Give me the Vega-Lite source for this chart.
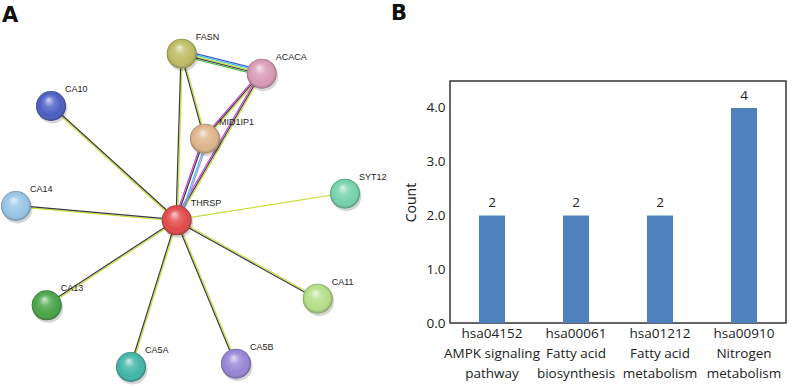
{
  "$schema": "https://vega.github.io/schema/vega-lite/v6.json",
  "padding": {"left": 0, "top": 2, "right": 0, "bottom": 0},
  "spacing": 0,
  "background": "white",
  "datasets": {
    "nodes": [
      {"name": "FASN", "nx": 181.7, "ny": 52.7},
      {"name": "ACACA", "nx": 261.7, "ny": 72.7},
      {"name": "CA10", "nx": 51, "ny": 105},
      {"name": "MID1IP1", "nx": 205, "ny": 137.7},
      {"name": "SYT12", "nx": 345, "ny": 192.7},
      {"name": "CA14", "nx": 16, "ny": 205},
      {"name": "THRSP", "nx": 176.7, "ny": 219.3},
      {"name": "CA13", "nx": 46.7, "ny": 304.3},
      {"name": "CA11", "nx": 317.7, "ny": 297.7},
      {"name": "CA5A", "nx": 131, "ny": 366},
      {"name": "CA5B", "nx": 236, "ny": 362.7}
    ],
    "edges": [
      {"source": "FASN", "target": "ACACA", "evidence": "cooccurrence"},
      {"source": "FASN", "target": "ACACA", "evidence": "database"},
      {"source": "FASN", "target": "ACACA", "evidence": "textmining"},
      {"source": "FASN", "target": "ACACA", "evidence": "coexpression"},
      {"source": "FASN", "target": "ACACA", "evidence": "neighborhood"},
      {"source": "FASN", "target": "THRSP", "evidence": "textmining"},
      {"source": "FASN", "target": "THRSP", "evidence": "coexpression"},
      {"source": "FASN", "target": "MID1IP1", "evidence": "textmining"},
      {"source": "FASN", "target": "MID1IP1", "evidence": "coexpression"},
      {"source": "ACACA", "target": "MID1IP1", "evidence": "textmining"},
      {"source": "ACACA", "target": "MID1IP1", "evidence": "coexpression"},
      {"source": "ACACA", "target": "MID1IP1", "evidence": "experiments"},
      {"source": "ACACA", "target": "THRSP", "evidence": "textmining"},
      {"source": "ACACA", "target": "THRSP", "evidence": "coexpression"},
      {"source": "ACACA", "target": "THRSP", "evidence": "experiments"},
      {"source": "MID1IP1", "target": "THRSP", "evidence": "homology"},
      {"source": "MID1IP1", "target": "THRSP", "evidence": "database"},
      {"source": "MID1IP1", "target": "THRSP", "evidence": "coexpression"},
      {"source": "MID1IP1", "target": "THRSP", "evidence": "experiments"},
      {"source": "THRSP", "target": "CA10", "evidence": "textmining"},
      {"source": "THRSP", "target": "CA10", "evidence": "coexpression"},
      {"source": "THRSP", "target": "CA14", "evidence": "textmining"},
      {"source": "THRSP", "target": "CA14", "evidence": "coexpression"},
      {"source": "THRSP", "target": "CA13", "evidence": "textmining"},
      {"source": "THRSP", "target": "CA13", "evidence": "coexpression"},
      {"source": "THRSP", "target": "CA5A", "evidence": "textmining"},
      {"source": "THRSP", "target": "CA5A", "evidence": "coexpression"},
      {"source": "THRSP", "target": "CA5B", "evidence": "textmining"},
      {"source": "THRSP", "target": "CA5B", "evidence": "coexpression"},
      {"source": "THRSP", "target": "CA11", "evidence": "textmining"},
      {"source": "THRSP", "target": "CA11", "evidence": "coexpression"},
      {"source": "THRSP", "target": "SYT12", "evidence": "textmining"}
    ],
    "pathways": [
      {"term": "hsa04152|AMPK signaling|pathway", "count": 2},
      {"term": "hsa00061|Fatty acid|biosynthesis", "count": 2},
      {"term": "hsa01212|Fatty acid|metabolism", "count": 2},
      {"term": "hsa00910|Nitrogen|metabolism", "count": 4}
    ]
  },
  "hconcat": [
    {
      "width": 390,
      "height": 305,
      "view": {"stroke": null},
      "title": {"text": "A", "anchor": "start", "frame": "group", "font": "DejaVu Sans", "fontSize": 21, "fontWeight": "bold", "color": "#111111", "offset": 7, "dx": 2},
      "layer": [
        {
          "data": {"name": "edges"},
          "transform": [
            {"lookup": "source", "from": {"data": {"name": "nodes"}, "key": "name", "fields": ["nx", "ny"]}, "as": ["sx", "sy"]},
            {"lookup": "target", "from": {"data": {"name": "nodes"}, "key": "name", "fields": ["nx", "ny"]}, "as": ["tx", "ty"]}
          ],
          "mark": {
            "type": "rule",
            "strokeWidth": 1.2,
            "xOffset": {"expr": "-(datum.evidence=='textmining'?-0.7:datum.evidence=='coexpression'?0.7:datum.evidence=='experiments'?2.1:datum.evidence=='neighborhood'?2.1:datum.evidence=='database'?-2.1:-3.5)*(datum.ty-datum.sy)/sqrt(pow(datum.tx-datum.sx,2)+pow(datum.ty-datum.sy,2))"},
            "x2Offset": {"expr": "-(datum.evidence=='textmining'?-0.7:datum.evidence=='coexpression'?0.7:datum.evidence=='experiments'?2.1:datum.evidence=='neighborhood'?2.1:datum.evidence=='database'?-2.1:-3.5)*(datum.ty-datum.sy)/sqrt(pow(datum.tx-datum.sx,2)+pow(datum.ty-datum.sy,2))"},
            "yOffset": {"expr": "(datum.evidence=='textmining'?-0.7:datum.evidence=='coexpression'?0.7:datum.evidence=='experiments'?2.1:datum.evidence=='neighborhood'?2.1:datum.evidence=='database'?-2.1:-3.5)*(datum.tx-datum.sx)/sqrt(pow(datum.tx-datum.sx,2)+pow(datum.ty-datum.sy,2))"},
            "y2Offset": {"expr": "(datum.evidence=='textmining'?-0.7:datum.evidence=='coexpression'?0.7:datum.evidence=='experiments'?2.1:datum.evidence=='neighborhood'?2.1:datum.evidence=='database'?-2.1:-3.5)*(datum.tx-datum.sx)/sqrt(pow(datum.tx-datum.sx,2)+pow(datum.ty-datum.sy,2))"}
          },
          "encoding": {
            "x": {"field": "sx", "type": "quantitative", "scale": {"domain": [0, 390], "nice": false, "zero": false}, "axis": null},
            "y": {"field": "sy", "type": "quantitative", "scale": {"domain": [80, 385], "nice": false, "zero": false, "reverse": true}, "axis": null},
            "x2": {"field": "tx"},
            "y2": {"field": "ty"},
            "color": {
              "field": "evidence", "type": "nominal", "legend": null,
              "scale": {
                "domain": ["textmining", "coexpression", "experiments", "database", "neighborhood", "cooccurrence", "homology"],
                "range": ["#c8de3c", "#3a3a3a", "#d13ccc", "#3cc4e4", "#43b843", "#3a52d4", "#a68ae6"]
              }
            }
          }
        },
        {
          "data": {"name": "nodes"},
          "mark": {"type": "point", "shape": "circle", "filled": true, "size": 900, "color": "#000000", "opacity": 0.16, "xOffset": 1.5, "yOffset": 2.5},
          "encoding": {
            "x": {"field": "nx", "type": "quantitative"},
            "y": {"field": "ny", "type": "quantitative"}
          }
        },
        {
          "data": {"name": "nodes"},
          "mark": {"type": "point", "shape": "circle", "filled": true, "size": 900, "opacity": 1, "strokeWidth": 0},
          "encoding": {
            "x": {"field": "nx", "type": "quantitative"},
            "y": {"field": "ny", "type": "quantitative"},
            "fill": {
              "field": "name", "type": "nominal", "legend": null,
              "scale": {
                "domain": ["FASN", "ACACA", "CA10", "MID1IP1", "SYT12", "CA14", "THRSP", "CA13", "CA11", "CA5A", "CA5B"],
                "range": ["#bdbb62", "#d99ab5", "#4a5cc4", "#ddb48a", "#72d2aa", "#98c4e6", "#e04848", "#46a446", "#b4de86", "#3fb4a6", "#9684d6"]
              }
            }
          }
        },
        {
          "data": {"name": "nodes"},
          "mark": {
            "type": "point", "shape": "circle", "filled": true, "size": 900, "opacity": 1, "strokeWidth": 0,
            "fill": {
              "gradient": "radial", "x1": 0.42, "y1": 0.28, "r1": 0, "x2": 0.5, "y2": 0.5, "r2": 0.5,
              "stops": [
                {"offset": 0, "color": "rgba(255,255,255,0.75)"},
                {"offset": 0.35, "color": "rgba(255,255,255,0.2)"},
                {"offset": 0.75, "color": "rgba(255,255,255,0)"},
                {"offset": 1, "color": "rgba(0,0,0,0.3)"}
              ]
            }
          },
          "encoding": {
            "x": {"field": "nx", "type": "quantitative"},
            "y": {"field": "ny", "type": "quantitative"}
          }
        },
        {
          "data": {"name": "nodes"},
          "mark": {"type": "text", "align": "left", "baseline": "middle", "dx": 14, "dy": -17, "font": "Liberation Sans", "fontSize": 9, "color": "#222222"},
          "encoding": {
            "x": {"field": "nx", "type": "quantitative"},
            "y": {"field": "ny", "type": "quantitative"},
            "text": {"field": "name"}
          }
        }
      ]
    },
    {
      "width": 336,
      "height": 242,
      "view": {"stroke": "#333333", "strokeWidth": 1.5},
      "title": {"text": "B", "anchor": "start", "frame": "group", "font": "DejaVu Sans", "fontSize": 21, "fontWeight": "bold", "color": "#111111", "offset": 57, "dx": -59},
      "data": {"name": "pathways"},
      "encoding": {
        "x": {
          "field": "term", "type": "nominal", "sort": null,
          "scale": {"paddingInner": 0, "paddingOuter": 0},
          "axis": {
            "title": null, "labelAngle": 0, "domain": false, "ticks": false,
            "labelExpr": "split(datum.label, '|')",
            "labelFont": "Open Sans", "labelFontSize": 13.5, "labelColor": "#222222",
            "labelLineHeight": 20, "labelPadding": 3, "labelBaseline": "top"
          }
        },
        "y": {
          "field": "count", "type": "quantitative",
          "scale": {"domain": [0, 4.5], "nice": false},
          "axis": {
            "title": "Count", "values": [0, 1, 2, 3, 4], "format": ".1f",
            "domain": false, "ticks": false, "grid": false,
            "labelFont": "Open Sans", "labelFontSize": 13.5, "labelColor": "#222222", "labelPadding": 5,
            "titleFont": "Open Sans", "titleFontSize": 14, "titleFontWeight": "normal", "titleColor": "#222222", "titlePadding": 8
          }
        }
      },
      "layer": [
        {"mark": {"type": "bar", "color": "#4f81bd", "width": {"band": 0.31}}},
        {
          "mark": {"type": "text", "dy": -8, "baseline": "alphabetic", "font": "Open Sans", "fontSize": 13.5, "color": "#222222"},
          "encoding": {"text": {"field": "count", "type": "quantitative"}}
        }
      ]
    }
  ],
  "resolve": {"scale": {"x": "independent", "y": "independent"}}
}
